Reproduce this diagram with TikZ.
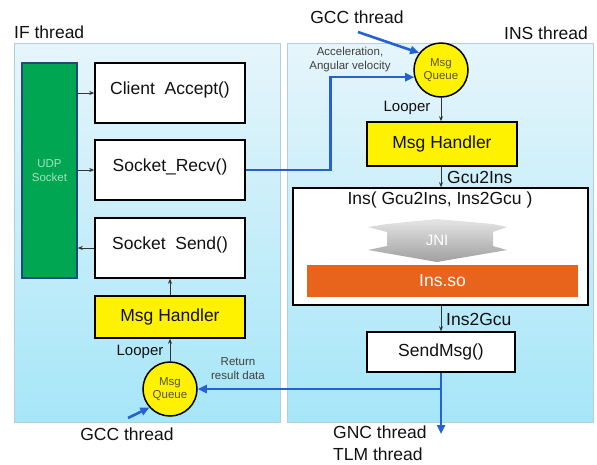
\documentclass[tikz,border=0pt]{standalone}
\usepackage{fontspec}
\setmainfont{Liberation Sans}
\usetikzlibrary{arrows.meta,calc}
\definecolor{panelTop}{HTML}{E6F5FB}
\definecolor{panelBot}{HTML}{A6E6F8}
\definecolor{panelEdge}{HTML}{B4CFD8}
\definecolor{udpGreen}{HTML}{00A651}
\definecolor{udpEdge}{HTML}{1F497D}
\definecolor{udpText}{HTML}{A8E0C0}
\definecolor{lineBlue}{HTML}{2462D4}
\definecolor{insOrange}{HTML}{E8641C}
\definecolor{txtDark}{HTML}{111111}
\definecolor{qText}{HTML}{55553A}
\begin{document}
\begin{tikzpicture}[x=1pt,y=-1pt,
  bigfont/.style={font=\fontsize{17.5}{20}\selectfont},
  smallfont/.style={font=\fontsize{11.5}{14}\selectfont},
  panel/.style={draw=panelEdge, line width=0.8pt, top color=panelTop, bottom color=panelBot, inner sep=0pt},
  wbox/.style={draw=black, line width=1.5pt, fill=white, bigfont, text=txtDark, inner sep=0pt},
  ybox/.style={draw=black, line width=1.5pt, fill=yellow, bigfont, text=txtDark, inner sep=0pt},
  queue/.style={circle, draw=black, line width=1.5pt, fill=yellow, minimum size=54pt, inner sep=0pt, smallfont, text=qText, align=center},
  thin/.style={draw=black!80, line width=0.8pt, -{Stealth[length=5pt,width=4pt]}},
  blueline/.style={draw=lineBlue, line width=2.6pt, -{Triangle[length=9pt,width=8pt]}},
  lbl/.style={bigfont, text=txtDark, inner sep=0pt},
  slbl/.style={smallfont, text=black!75, inner sep=0pt, align=center}
]
\useasboundingbox (0,0) rectangle (597,464);

% panels
\node[panel, minimum width=266pt, minimum height=379pt] (pl) at (147,232.5) {};
\node[panel, minimum width=306pt, minimum height=379pt] (pr) at (440,232.5) {};

% titles
\node[lbl, anchor=west] (tif) at (14,32) {IF thread};
\node[lbl, anchor=east] (tins) at (588,33) {INS thread};
\node[lbl] (gcctop) at (357,17) {GCC thread};
\node[lbl] (gccbot) at (127,434) {GCC thread};
\node[lbl, anchor=west] (gnc) at (333,432) {GNC thread};
\node[lbl, anchor=west] (tlm) at (333,454) {TLM thread};

% left panel
\node[draw=udpEdge, line width=1.5pt, fill=udpGreen, minimum width=55pt, minimum height=215pt, inner sep=0pt,
      smallfont, text=udpText, align=center] (udp) at (49.5,170.5) {UDP\\Socket};
\node[wbox, minimum width=150pt, minimum height=60pt, text height=13pt, text depth=10pt] (accept) at (170,93) {Client\ \ Accept()};
\node[wbox, minimum width=150pt, minimum height=60pt, text height=13pt, text depth=10pt] (recv) at (170,170) {Socket\_Recv()};
\node[wbox, minimum width=150pt, minimum height=60pt, text height=13pt, text depth=10pt] (send) at (170,248) {Socket\ \ Send()};
\node[ybox, minimum width=150pt, minimum height=42pt] (mhl) at (170,317) {Msg Handler};
\node[queue] (ql) at (170,389) {Msg\\[-1pt]Queue};
\node[lbl, font=\fontsize{15}{17}\selectfont] (loopl) at (140,352) {Looper};
\node[slbl] (ret) at (238,369) {Return\\result data};

\draw[thin] (udp.east |- accept.west) -- (accept.west);
\draw[thin] (udp.east |- recv.west) -- (recv.west);
\draw[thin] (send.west) -- (send.west -| udp.east);
\draw[thin] (mhl.north) -- (send.south);
\draw[thin] (ql.north) -- (mhl.south);

% right panel
\node[queue] (qr) at (441,70) {Msg\\[-1pt]Queue};
\node[slbl] (accel) at (350,59.5) {Acceleration,\\Angular velocity};
\node[lbl, font=\fontsize{15}{17}\selectfont] (loopr) at (407,108) {Looper};
\node[ybox, minimum width=150pt, minimum height=44pt] (mhr) at (442,144) {Msg Handler};
\node[lbl, anchor=west] (g2i) at (447,177) {Gcu2Ins};
\node[draw=black, line width=1.5pt, fill=white, minimum width=295pt, minimum height=117pt, inner sep=0pt] (ins) at (440.5,246.5) {};
\node[lbl] (institle) at (440,200) {Ins( Gcu2Ins, Ins2Gcu )};
\shade[top color=gray!20, bottom color=gray!75, draw=none]
  (368,227) -- (387,224) -- (437,219) -- (493,224) -- (507,227) -- (493,232) -- (493,246)
  -- (507,250) -- (437,262) -- (368,250) -- (387,246) -- (387,232) -- cycle;
\node[font=\fontsize{15}{17}\selectfont, text=white, inner sep=0pt] (jni) at (437,240) {JNI};
\node[fill=insOrange, minimum width=271pt, minimum height=32pt, inner sep=0pt, bigfont, text=white] (inso) at (442.5,281) {Ins.so};
\node[lbl, anchor=west] (i2g) at (446,319) {Ins2Gcu};
\node[wbox, minimum width=148pt, minimum height=40pt] (sendmsg) at (441,352) {SendMsg()};

\draw[thin] (qr.south) -- (qr.south |- mhr.north);
\draw[thin] (mhr.south -| qr.south) -- (ins.north -| qr.south);
\draw[thin] (ins.south -| sendmsg.north) -- (sendmsg.north);

% blue connectors
\coordinate (gcctail) at (358,32);
\coordinate (gccbtail) at (128,418);
\coordinate (gnctip) at (441,434);
\draw[blueline] (gcctail) -- (qr.142);
\draw[blueline] (gccbtail) -- (ql.222);
\draw[blueline] (recv.east) -- ++(85,0) |- (qr.195);
\draw[blueline] (sendmsg.south) -- (gnctip);
\draw[blueline] (sendmsg.south |- ql.east) -- (ql.east);
\end{tikzpicture}
\end{document}
